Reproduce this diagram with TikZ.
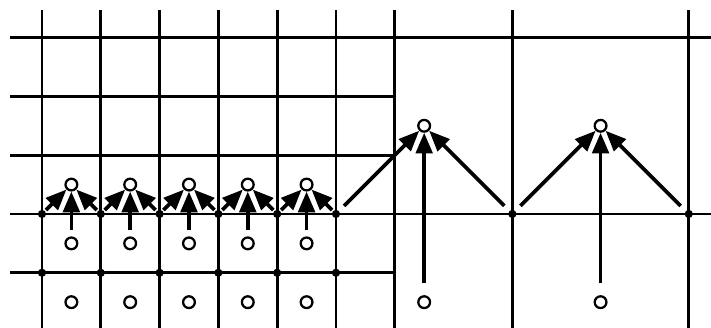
\documentclass[tikz,border=0pt]{standalone}
\usetikzlibrary{arrows.meta}

\begin{document}
\begin{tikzpicture}[line width=1.4pt,
  cell/.style={circle, draw, fill=white, line width=1.1pt, inner sep=0pt, minimum size=0.2cm},
  knot/.style={circle, fill, inner sep=0pt, minimum size=0.14cm},
  arr/.style={-{Triangle[length=10pt,width=8pt]}, line width=1.8pt}]
\useasboundingbox (-0.714,-1.939) rectangle (11.378,3.639);
% vertical lines
\draw (0,-1.94) -- (0,3.47);
\draw (1,-1.94) -- (1,3.47);
\draw (2,-1.94) -- (2,3.47);
\draw (3,-1.94) -- (3,3.47);
\draw (4,-1.94) -- (4,3.47);
\draw (5,-1.94) -- (5,3.47);
\draw (6,-1.94) -- (6,3.47);
\draw (8,-1.94) -- (8,3.47);
\draw (11,-1.94) -- (11,3.47);
% horizontal lines, coarse ones go all the way
\draw (-0.54,3) -- (11.38,3);
\draw (-0.54,0) -- (11.38,0);
% fine ones stop at x=6
\draw (-0.54,2) -- (6,2);
\draw (-0.54,1) -- (6,1);
\draw (-0.54,-1) -- (6,-1);
% corner points
\node[knot] (p0) at (0,0) {};
\node[knot] (p1) at (1,0) {};
\node[knot] (p2) at (2,0) {};
\node[knot] (p3) at (3,0) {};
\node[knot] (p4) at (4,0) {};
\node[knot] (p5) at (5,0) {};
\node[knot] (p8) at (8,0) {};
\node[knot] (p11) at (11,0) {};
\node[knot] (q0) at (0,-1) {};
\node[knot] (q1) at (1,-1) {};
\node[knot] (q2) at (2,-1) {};
\node[knot] (q3) at (3,-1) {};
\node[knot] (q4) at (4,-1) {};
\node[knot] (q5) at (5,-1) {};
% fine cell centres
\node[cell] (g1) at (0.5,0.5) {};
\node[cell] (g2) at (1.5,0.5) {};
\node[cell] (g3) at (2.5,0.5) {};
\node[cell] (g4) at (3.5,0.5) {};
\node[cell] (g5) at (4.5,0.5) {};
\node[cell] (a1) at (0.5,-0.5) {};
\node[cell] (a2) at (1.5,-0.5) {};
\node[cell] (a3) at (2.5,-0.5) {};
\node[cell] (a4) at (3.5,-0.5) {};
\node[cell] (a5) at (4.5,-0.5) {};
\node[cell] (b1) at (0.5,-1.5) {};
\node[cell] (b2) at (1.5,-1.5) {};
\node[cell] (b3) at (2.5,-1.5) {};
\node[cell] (b4) at (3.5,-1.5) {};
\node[cell] (b5) at (4.5,-1.5) {};
% coarse cell centres
\node[cell] (G1) at (6.5,1.5) {};
\node[cell] (G2) at (9.5,1.5) {};
\node[cell] (A1) at (6.5,-1.5) {};
\node[cell] (A2) at (9.5,-1.5) {};
% fine arrows
\draw[arr] (p0) -- (g1);
\draw[arr] (p1) -- (g1);
\draw[arr, shorten <=0.1cm] (a1) -- (g1);
\draw[arr] (p1) -- (g2);
\draw[arr] (p2) -- (g2);
\draw[arr, shorten <=0.1cm] (a2) -- (g2);
\draw[arr] (p2) -- (g3);
\draw[arr] (p3) -- (g3);
\draw[arr, shorten <=0.1cm] (a3) -- (g3);
\draw[arr] (p3) -- (g4);
\draw[arr] (p4) -- (g4);
\draw[arr, shorten <=0.1cm] (a4) -- (g4);
\draw[arr] (p4) -- (g5);
\draw[arr] (p5) -- (g5);
\draw[arr, shorten <=0.1cm] (a5) -- (g5);
% coarse arrows
\draw[arr, shorten <=0.1cm] (p5) -- (G1);
\draw[arr, shorten <=0.1cm] (p8) -- (G1);
\draw[arr, shorten <=0.2cm] (A1) -- (G1);
\draw[arr, shorten <=0.1cm] (p8) -- (G2);
\draw[arr, shorten <=0.1cm] (p11) -- (G2);
\draw[arr, shorten <=0.2cm] (A2) -- (G2);
\end{tikzpicture}
\end{document}
